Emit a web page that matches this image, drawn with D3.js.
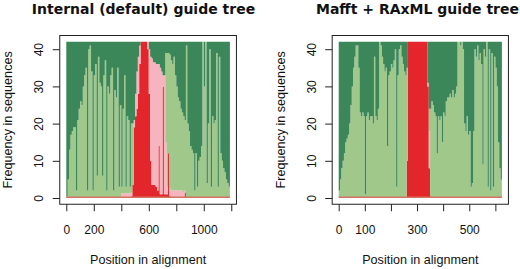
<!DOCTYPE html>
<html>
<head>
<meta charset="utf-8">
<script src="https://cdn.jsdelivr.net/npm/d3@7"></script>
<style>
  body { margin: 0; background: #fff; }
  svg text { font-family: "Liberation Sans", Arial, sans-serif; fill: #111; }
  .title { font-family: "DejaVu Sans", sans-serif; font-weight: bold; font-size: 14px; }
  .lab { font-size: 12.6px; }
  .axis text { font-size: 12px; }
  .axis line { stroke: #222; }
  .axis .domain { display: none; }
</style>
</head>
<body>
<svg id="chart" width="520" height="269"></svg>
<script>
const total = 42;
const colors = { red: "#e2262b", pink: "#f6b4be", light: "#a0c88a", dark: "#3b875a" };
const yTicks = [0, 10, 20, 30, 40];

// left: internal (default) guide tree, one value per 10 alignment columns
const leftBin = 10;
const leftEnd = 1190;
const leftLight = [
  0.5, 5, 13, 17, 18, 19, 19, 2, 21, 24,
  26, 25, 30, 33, 35, 2, 40, 41, 34, 2,
  33, 36, 6, 38, 31, 30, 6, 33, 37, 2,
  30, 28, 33, 35, 2, 29, 27, 35, 3, 25,
  1.7, 22.7, 31.7, 1.7, 20.7, 19.7, 1.7, 18.5, 16.5, 0,
  0, 0, 0, 0, 0, 0, 0, 0, 0, 0,
  0, 0, 0, 0, 0, 0, 0, 0, 0, 0,
  0, 0, 24, 36, 27, 36, 35, 34, 36, 31,
  28, 25, 24, 22, 21, 20.5, 19, 41, 20, 18,
  14, 13, 12, 2, 12, 3, 10, 11, 14, 42,
  30, 42, 4, 20, 40, 3, 22, 20, 21, 39,
  3, 38, 12, 10, 8, 7, 5, 4, 3
];
const leftPinkStart = 400;
const leftPink = [
  1.3, 1.3, 1.3, 1.3, 1.3, 1.3, 1.3, 1, 0, 2,
  6, 10, 10, 5, 0, 0, 0, 0, 0, 2,
  12, 28, 34, 33, 33, 33, 34, 22, 34, 33,
  3, 32, 14, 2, 0, 2, 2, 2, 2, 2,
  2, 2, 2, 2, 2, 1.5, 0.5
];
const leftRedStart = 470;
const leftRed = [
  0.5, 3.5, 19, 22, 24, 28, 36, 42, 42, 42,
  42, 42, 40, 28, 10, 3.5, 3.5, 3.5, 3, 2,
  14, 1, 1, 30, 1, 1, 1, 12, 0.5, 0,
  0, 0, 0, 0, 0, 0, 0, 0, 0, 1.5
];
const leftTicks = [0, 200, 400, 600, 800, 1000, 1200];
const leftLabels = [0, 200, 600, 1000];

// right: Mafft + RAxML guide tree, one value per 5 alignment columns
const rightBin = 5;
const rightEnd = 625;
const rightLight = [
  2, 5, 8, 10, 12, 15, 16, 17, 20, 25,
  30, 35, 38, 41, 41, 35, 23, 22, 23, 22,
  1, 22, 23, 21, 22, 22, 20, 38, 22, 21,
  24, 42, 41, 38, 36, 34, 35, 14, 33, 34,
  36, 35, 37, 40, 3, 33, 40, 41, 38, 36,
  34, 33, 25, 0, 0, 0, 0, 0, 0, 0,
  0, 0, 0, 0, 0, 0, 0, 0, 0, 6,
  23.5, 26, 25, 23, 22, 12, 22, 21, 22, 15,
  23, 22, 26, 27, 27, 28, 27, 29, 27, 28,
  30, 42, 42, 41, 42, 40, 20, 18, 22, 17,
  18, 3, 4, 18, 40, 38, 41, 37, 39, 36,
  9, 40, 38, 42, 3, 40, 2, 39, 3, 38,
  35, 30, 15, 8, 5
];
const rightPinkStart = 340;
const rightPink = [1, 10];
const rightRedStart = 260;
const rightRed = [10, 42, 42, 42, 42, 42, 42, 42, 42, 42, 42, 42, 42, 42, 42, 42, 30, 8, 0.5];
const rightTicks = [0, 100, 200, 300, 400, 500, 600];
const rightLabels = [0, 100, 300, 500];

const svg = d3.select("#chart");

function drawPanel(cfg) {
  const x = d3.scaleLinear().domain([0, cfg.end]).range(cfg.xRange);
  const y = d3.scaleLinear().domain([0, total]).range([198, 41.76]);
  const padX = cfg.end * 0.04, padY = total * 0.04;

  const rows = cfg.light.map((l, i) => {
    const red = cfg.red[i - cfg.redStart / cfg.bin] || 0;
    const pink = cfg.pink[i - cfg.pinkStart / cfg.bin] || 0;
    return { p: i * cfg.bin, red: red, pink: pink, light: l, dark: total - red - pink - l };
  });
  rows.push(Object.assign({}, rows[rows.length - 1], { p: cfg.end }));

  const layers = d3.stack().keys(["red", "pink", "light", "dark"])(rows);
  const area = d3.area()
    .curve(d3.curveStepAfter)
    .x(d => x(d.data.p))
    .y0(d => y(d[0]))
    .y1(d => y(d[1]));

  const g = svg.append("g");
  g.selectAll("path.layer").data(layers).join("path")
    .attr("class", "layer")
    .attr("fill", d => colors[d.key])
    .attr("d", area);

  g.append("line")
    .attr("x1", x(0)).attr("x2", x(cfg.end))
    .attr("y1", y(0.2)).attr("y2", y(0.2))
    .attr("stroke", "#d4735f").attr("stroke-width", 1.6);

  const left = x(-padX), right = x(cfg.end + padX);
  const top = y(total + padY), bottom = y(-padY);

  g.append("rect")
    .attr("x", left).attr("y", top)
    .attr("width", right - left).attr("height", bottom - top)
    .attr("fill", "none").attr("stroke", "#222").attr("stroke-width", 1);

  g.append("g")
    .attr("class", "axis")
    .attr("transform", `translate(0,${bottom})`)
    .call(d3.axisBottom(x).tickValues(cfg.ticks).tickSize(7).tickPadding(14.2)
      .tickFormat(d => cfg.labels.includes(d) ? d : ""));

  const yAxis = g.append("g")
    .attr("class", "axis")
    .attr("transform", `translate(${left},0)`)
    .call(d3.axisLeft(y).tickValues(yTicks).tickSize(7));
  yAxis.selectAll("text")
    .attr("x", 0).attr("dy", 0)
    .attr("text-anchor", "middle")
    .attr("transform", "translate(-16.5,0) rotate(-90)");

  g.append("text")
    .attr("class", "lab")
    .attr("x", (left + right) / 2).attr("y", 264)
    .attr("text-anchor", "middle")
    .text("Position in alignment");

  g.append("text")
    .attr("class", "lab")
    .attr("text-anchor", "middle")
    .attr("transform", `translate(${left - 47.5},${(top + bottom) / 2}) rotate(-90)`)
    .text("Frequency in sequences");

  g.append("text")
    .attr("class", "title")
    .attr("x", cfg.titleX).attr("y", 14)
    .attr("text-anchor", "middle")
    .text(cfg.title);
}

drawPanel({
  title: "Internal (default) guide tree", titleX: 143.5,
  bin: leftBin, end: leftEnd, xRange: [66.3, 229.9],
  light: leftLight, pink: leftPink, pinkStart: leftPinkStart, red: leftRed, redStart: leftRedStart,
  ticks: leftTicks, labels: leftLabels
});

drawPanel({
  title: "Mafft + RAxML guide tree", titleX: 417.5,
  bin: rightBin, end: rightEnd, xRange: [338.7, 501.9],
  light: rightLight, pink: rightPink, pinkStart: rightPinkStart, red: rightRed, redStart: rightRedStart,
  ticks: rightTicks, labels: rightLabels
});
</script>
</body>
</html>
